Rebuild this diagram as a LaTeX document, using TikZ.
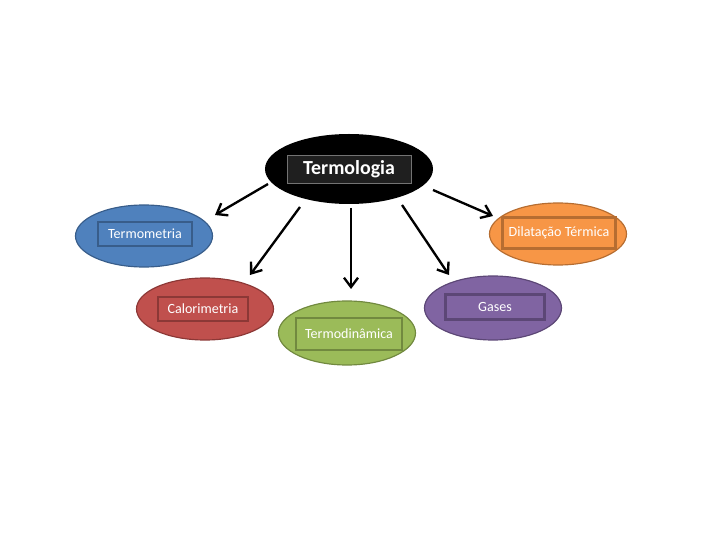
\documentclass[tikz,border=0pt]{standalone}
\usepackage{fontspec}
\setmainfont{Carlito}
\usetikzlibrary{arrows.meta,shapes.geometric}
\definecolor{termblue}{RGB}{79,129,189}
\definecolor{termblueline}{RGB}{56,93,138}
\definecolor{termorange}{RGB}{247,150,70}
\definecolor{termorangeline}{RGB}{182,109,49}
\definecolor{termred}{RGB}{192,80,77}
\definecolor{termredline}{RGB}{140,56,54}
\definecolor{termpurple}{RGB}{128,100,162}
\definecolor{termpurpleline}{RGB}{92,71,118}
\definecolor{termgreen}{RGB}{155,187,89}
\definecolor{termgreenline}{RGB}{113,137,63}

\begin{document}
\begin{tikzpicture}[x=0.03cm,y=-0.03cm,>={Straight Barb[length=8pt,width=12pt]},
  bubble/.style={ellipse,line width=1pt,minimum width=4.11cm,minimum height=1.86cm},
  tag/.style={rectangle,line width=2pt,text=white,inner sep=0pt,
    font=\fontsize{12}{14}\selectfont,minimum height=0.72cm},
  link/.style={->,line width=2pt}]
\useasboundingbox (0,0) rectangle (720,540);
% central topic
\node[ellipse,fill=black,minimum width=5.04cm,minimum height=2.1cm] (top) at (349,169) {};
\node[rectangle,fill=black!88,draw=black!55,line width=0.6pt,text=white,
  font=\fontsize{17}{19}\selectfont\bfseries,minimum width=3.72cm,minimum height=0.84cm]
  (toptag) at (349,169) {Termologia};
% branches
\node[bubble,fill=termblue,draw=termblueline] (termo) at (144,236) {};
\node[tag,draw=termblueline,minimum width=2.82cm] (termotag) at (145,234) {Termometria};
\node[bubble,fill=termorange,draw=termorangeline] (dilat) at (558,234) {};
\node[tag,draw=termorangeline,minimum width=3.39cm,minimum height=0.93cm] (dilattag) at (559,233) {Dilatação Térmica};
\node[bubble,fill=termred,draw=termredline] (calor) at (205,309) {};
\node[tag,draw=termredline,minimum width=2.7cm] (calortag) at (203,309) {Calorimetria};
\node[bubble,fill=termpurple,draw=termpurpleline,minimum height=1.92cm] (gases) at (493,308) {};
\node[tag,draw=termpurpleline,minimum width=2.97cm,minimum height=0.75cm] (gasestag) at (495,307) {Gases};
\node[bubble,fill=termgreen,draw=termgreenline,minimum height=1.92cm] (termod) at (347,333) {};
\node[tag,draw=termgreenline,minimum width=3.18cm,minimum height=0.96cm] (termodtag) at (349,334) {Termodinâmica};
% arrow ends
\coordinate (a1) at (268,184);
\coordinate (b1) at (215,215);
\coordinate (a2) at (300,207);
\coordinate (b2) at (250,275);
\coordinate (a3) at (351,208);
\coordinate (b3) at (351,289);
\coordinate (a4) at (402,205);
\coordinate (b4) at (449,275);
\coordinate (a5) at (433,190);
\coordinate (b5) at (493,216);
\draw[link] (a1) -- (b1);
\draw[link] (a2) -- (b2);
\draw[link] (a3) -- (b3);
\draw[link] (a4) -- (b4);
\draw[link] (a5) -- (b5);
\end{tikzpicture}
\end{document}
